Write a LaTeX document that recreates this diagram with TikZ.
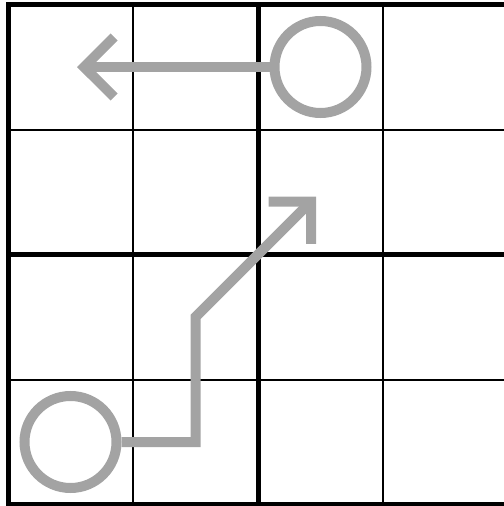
\documentclass[tikz,border=0pt]{standalone}
\usetikzlibrary{arrows.meta}
\definecolor{pathgray}{RGB}{163,163,163}

\begin{document}
\begin{tikzpicture}[
    % Gaya untuk garis kotak
    thinline/.style={draw=black, line width=0.04cm},
    thickline/.style={draw=black, line width=0.1cm},
    % Gaya untuk lingkaran dan panah
    marker/.style={circle, draw=pathgray, line width=0.2cm, minimum size=1.84cm, inner sep=0pt},
    route/.style={draw=pathgray, line width=0.2cm, -{Straight Barb[length=0.6cm, width=1.2cm]}}
]
\useasboundingbox (-0.16,-0.03) rectangle (9.92,10.09);

% Grid 4x4
\draw [thinline, step=2.5cm] (0,0) grid (10,10);
\draw [thickline] (0,0) rectangle (10,10);
\draw [thickline] (5,0) -- (5,10);
\draw [thickline] (0,5) -- (10,5);

% Lingkaran awal dan tujuan
\node (start) [marker] at (1.25,1.25) {};
\node (goal) [marker] at (6.25,8.75) {};

% Titik belok
\coordinate (bendA) at (3.75,1.25);
\coordinate (bendB) at (3.75,3.75);
\coordinate (tipA) at (6.16,6.16);
\coordinate (tipB) at (1.38,8.75);

% Panah-panah
\draw [route] (start.east) -- (bendA) -- (bendB) -- (tipA);
\draw [route] (goal.west) -- (tipB);

\end{tikzpicture}
\end{document}
